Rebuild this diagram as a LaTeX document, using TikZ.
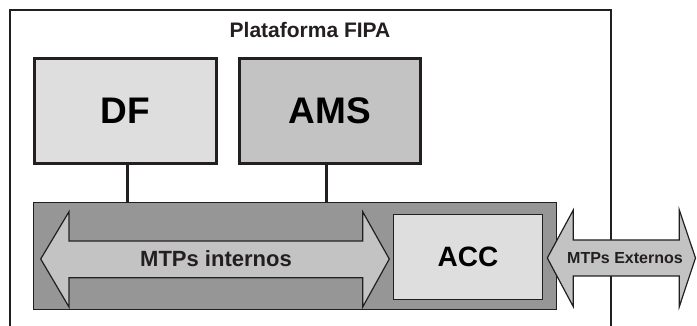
\documentclass[tikz,border=0pt]{standalone}
\usepackage{fontspec}
\setmainfont{Liberation Sans}
\usepackage{tikz}

\definecolor{lightgrey}{HTML}{DEDEDE}
\definecolor{midgrey}{HTML}{C3C3C3}
\definecolor{darkgrey}{HTML}{969696}
\definecolor{ink}{HTML}{231F20}

\begin{document}
\begin{tikzpicture}[x=1pt,y=-1pt,
  box/.style={rectangle,draw=ink,inner sep=0pt,font=\bfseries},
  label/.style={inner sep=0pt,text=ink,font=\bfseries}]
\useasboundingbox (0,0) rectangle (697,326);
% platform frame, open at the bottom
\draw [ink,line width=2pt] (10,326) -- (10,10) -- (611,10) -- (611,326);
\node (title) [label,font=\fontsize{21}{24}\bfseries\selectfont] at (310,30) {Plataforma FIPA};
\node (DF) [box,line width=3pt,fill=lightgrey,minimum width=182,minimum height=105,
  font=\fontsize{37}{40}\bfseries\selectfont] at (125,111) {DF};
\node (AMS) [box,line width=3pt,fill=midgrey,minimum width=181,minimum height=105,
  font=\fontsize{37}{40}\bfseries\selectfont] at (330,111) {AMS};
\node (bus) [box,line width=1pt,fill=darkgrey,minimum width=523,minimum height=107] at (294.75,256) {};
\draw [ink,line width=3pt] ([xshift=2.7]DF.south) -- ([xshift=2.7]DF.south |- bus.north);
\draw [ink,line width=3pt] ([xshift=-4]AMS.south) -- ([xshift=-4]AMS.south |- bus.north);
% internal double arrow
\draw [ink,line width=1.2pt,fill=midgrey,line join=miter]
  (40.7,259) -- (69,211.7) -- (69,241) -- (362.7,241) -- (362.7,211.7) -- (389.3,259)
  -- (362.7,307) -- (362.7,277.7) -- (69,277.7) -- (69,307) -- cycle;
\node (internos) [label,font=\fontsize{22}{26}\bfseries\selectfont] at (216,259) {MTPs internos};
\node (ACC) [box,line width=1.5pt,fill=lightgrey,minimum width=149,minimum height=85,
  font=\fontsize{28}{32}\bfseries\selectfont] at (468,257) {ACC};
% external double arrow
\draw [ink,line width=1.2pt,fill=midgrey,line join=miter]
  (547.3,258) -- (573.3,210) -- (573.3,240) -- (679.3,240) -- (679.3,210) -- (695.5,258)
  -- (679.3,306.7) -- (679.3,276) -- (573.3,276) -- (573.3,306.7) -- cycle;
\node (externos) [label,font=\fontsize{16}{19}\bfseries\selectfont] at (625,258) {MTPs Externos};
\end{tikzpicture}
\end{document}
